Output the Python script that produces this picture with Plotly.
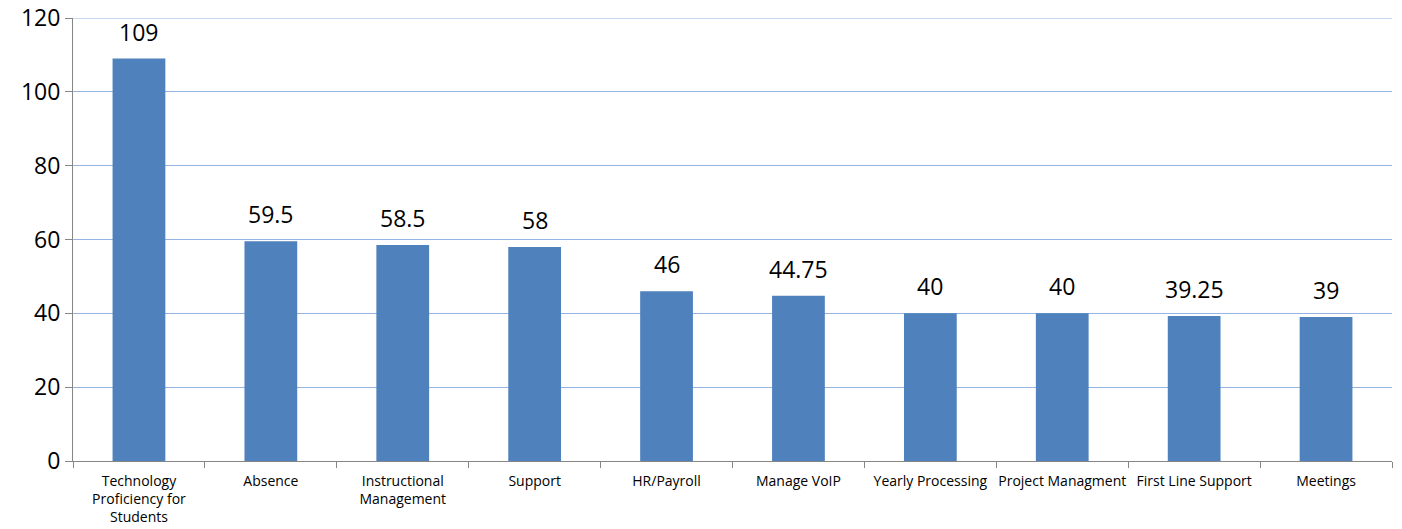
import plotly.graph_objects as go

categories = ["Technology<br>Proficiency for<br>Students", "Absence", "Instructional<br>Management",
              "Support", "HR/Payroll", "Manage VoIP", "Yearly Processing",
              "Project Managment", "First Line Support", "Meetings"]
values = [109, 59.5, 58.5, 58, 46, 44.75, 40, 40, 39.25, 39]
labels = ["109", "59.5", "58.5", "58", "46", "44.75", "40", "40", "39.25", "39"]
y_ticks = [0, 20, 40, 60, 80, 100, 120]
y_max = 120

fig = go.Figure(go.Bar(
    x=categories, y=values,
    marker=dict(color="#4F81BD", line=dict(width=0)),
    cliponaxis=False, hoverinfo="skip",
))

for c, v, t in zip(categories, values, labels):
    fig.add_annotation(x=c, y=v, text=t, showarrow=False, yanchor="bottom", yshift=9,
                       font=dict(size=23, color="#000000", family="Open Sans"))

# top gridline at the range edge (plotly hides the edge gridline)
fig.add_shape(type="line", xref="paper", x0=0, x1=1, yref="y", y0=y_max, y1=y_max,
              line=dict(color="#95B3E3", width=1), layer="below")

fig.update_layout(
    width=1402, height=529,
    margin=dict(l=73, r=10, t=18, b=68, autoexpand=False),
    plot_bgcolor="white", paper_bgcolor="white",
    bargap=0.6, showlegend=False,
    font=dict(family="Open Sans", color="#000000"),
)
fig.update_xaxes(
    automargin=False,
    showgrid=False, showline=True, linecolor="#868686", linewidth=1,
    ticks="outside", tickson="boundaries", ticklen=6, tickcolor="#868686",
    tickfont=dict(size=14, family="Open Sans"), tickangle=0, ticklabelstandoff=7,
)
fig.update_yaxes(
    automargin=False,
    range=[0, y_max], tickvals=y_ticks, showgrid=True, gridcolor="#95B3E3", gridwidth=1,
    showline=True, linecolor="#868686", linewidth=1, zeroline=False,
    ticks="outside", ticklen=7, tickcolor="#868686",
    tickfont=dict(size=23, family="Open Sans"),
)

fig.write_html("out.html", config={"displayModeBar": False},
               post_script="document.body.style.margin='0';")
